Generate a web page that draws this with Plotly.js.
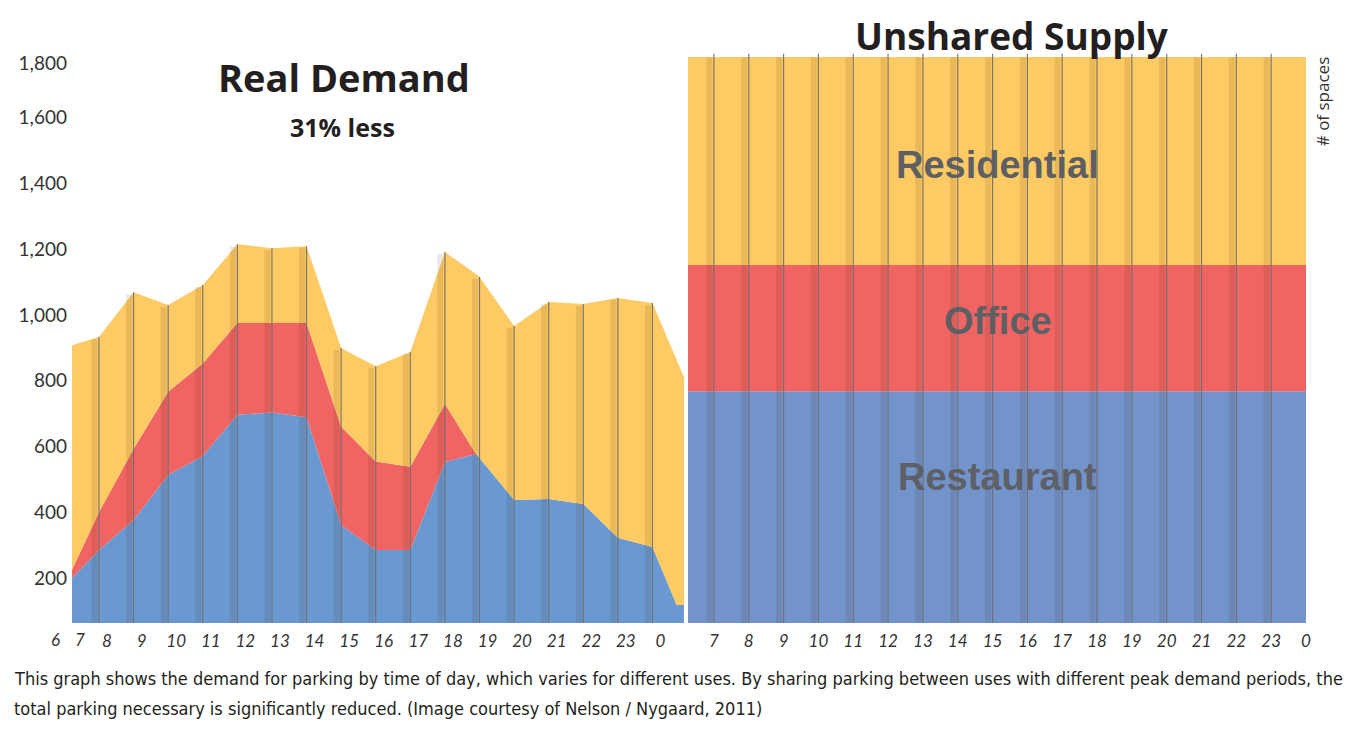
<!DOCTYPE html>
<html>
<head>
<meta charset="utf-8">
<script src="https://cdn.plot.ly/plotly-3.0.1.min.js"></script>
<style>
  html, body { margin: 0; padding: 0; background: #ffffff; }
  #chart { width: 1349px; height: 738px; }
</style>
</head>
<body>
<div id="chart"></div>
<script>
// ---- Real demand (left panel), hour of day (24 = midnight) ----
const demandHours = [7.22, 8, 9, 10, 11, 12, 13, 14, 15, 16, 17, 18, 18.9, 19, 20, 21, 22, 23, 24, 24.7, 24.91];
const demandRestaurant = [200, 285, 376, 513, 571, 696, 703, 689, 361, 285, 285, 553, 577, 565, 437, 440, 425, 322, 294, 118, 118];
const demandOffice = [24, 115, 216, 253, 281, 279, 272, 286, 299, 269, 253, 176, 0, 0, 0, 0, 0, 0, 0, 0, 0];
const demandResidential = [684, 533, 477, 264, 239, 240, 228, 234, 239, 290, 349, 462, 547, 550, 529, 599, 608, 729, 742, 745, 693];

// ---- Unshared supply (right panel) ----
const supplyHours = [6, 24];
const supplyRestaurant = [768, 768];
const supplyOffice = [384, 384];
const supplyResidential = [632, 632];

// ---- Tick labels ----
const demandTickHours = [8, 9, 10, 11, 12, 13, 14, 15, 16, 17, 18, 19, 20, 21, 22, 23, 24];
const demandTickText = ["8", "9", "10", "11", "12", "13", "14", "15", "16", "17", "18", "19", "20", "21", "22", "23", "0"];
const supplyTickHours = [7, 8, 9, 10, 11, 12, 13, 14, 15, 16, 17, 18, 19, 20, 21, 22, 23, 24];
const supplyTickText = ["7", "8", "9", "10", "11", "12", "13", "14", "15", "16", "17", "18", "19", "20", "21", "22", "23", "0"];
const yTickVals = [200, 400, 600, 800, 1000, 1200, 1400, 1600, 1766];
const yTickText = ["200", "400", "600", "800", "1,000", "1,200", "1,400", "1,600", "1,800"];
const supplyGridHours = [7, 8, 9, 10, 11, 12, 13, 14, 15, 16, 17, 18, 19, 20, 21, 22, 23];

const useNames = ["Restaurant", "Office", "Residential"];

// ---- styling ----
const YELLOW = "#fdca63";
const RED = "#f06464";
const BLUE_L = "#6a98d0";
const BLUE_R = "#7393cb";
const Y_MIN = 63, Y_MAX = 1836;

function area(x, y, color, group, xa, name) {
  return {
    type: "scatter", mode: "lines", x: x, y: y, xaxis: xa, yaxis: "y",
    stackgroup: group, stackgaps: "interpolate", name: name,
    line: { width: 0, color: color }, fillcolor: color, hoverinfo: "skip"
  };
}

const traces = [
  area(demandHours, demandRestaurant, BLUE_L, "demand", "x", useNames[0]),
  area(demandHours, demandOffice, RED, "demand", "x", useNames[1]),
  area(demandHours, demandResidential, YELLOW, "demand", "x", useNames[2]),
  area(supplyHours, supplyRestaurant, BLUE_R, "supply", "x2", useNames[0]),
  area(supplyHours, supplyOffice, RED, "supply", "x2", useNames[1]),
  area(supplyHours, supplyResidential, YELLOW, "supply", "x2", useNames[2])
];

// vertical hour dividers, from the axis floor up to the top of each stack
function dividers(hoursList, topFn, xa, dx, width, color, extra) {
  const xs = [], ys = [];
  hoursList.forEach(h => { xs.push(h + dx, h + dx, null); ys.push(Y_MIN, topFn(h) + extra, null); });
  return { type: "scatter", mode: "lines", x: xs, y: ys, xaxis: xa, yaxis: "y",
           line: { width: width, color: color }, hoverinfo: "skip", connectgaps: false };
}
const demandTop = h => {
  const i = demandHours.indexOf(h);
  return demandRestaurant[i] + demandOffice[i] + demandResidential[i];
};
const supplyTop = h => supplyRestaurant[0] + supplyOffice[0] + supplyResidential[0];

traces.push(dividers(demandTickHours, demandTop, "x", -0.13, 6, "rgba(60,40,0,0.10)", -6));
traces.push(dividers(demandTickHours, demandTop, "x", 0, 1.2, "rgba(110,110,110,0.9)", 0));
traces.push(dividers(supplyGridHours, supplyTop, "x2", -0.13, 6, "rgba(60,40,0,0.10)", 0));
traces.push(dividers(supplyGridHours, supplyTop, "x2", 0, 1.2, "rgba(110,110,110,0.9)", 10));

const tickFontX = { family: "Lato, 'Open Sans', sans-serif", size: 17, color: "#333333", style: "italic" };

const annFont = (size, color, family, weight) => ({ family: family, size: size, color: color, weight: weight });
const TITLE_FAM = "'Open Sans', Lato, sans-serif";
const LABEL_FAM = "'Liberation Sans', Arial, sans-serif";
const CAP_FAM = "'Liberation Sans Narrow', 'DejaVu Sans Condensed', 'Liberation Sans', sans-serif";

const annotations = [
  { text: "Real Demand", xref: "paper", yref: "paper", x: 0.2204, y: 0.9365, xanchor: "center", yanchor: "middle",
    showarrow: false, font: annFont(38, "#231f20", TITLE_FAM, 700) },
  { text: "31% less", xref: "paper", yref: "paper", x: 0.2196, y: 0.8508, xanchor: "center", yanchor: "middle",
    showarrow: false, font: annFont(25, "#231f20", TITLE_FAM, 700) },
  { text: "Unshared Supply", xref: "paper", yref: "paper", x: 0.7618, y: 1.0070, xanchor: "center", yanchor: "middle",
    showarrow: false, font: annFont(37, "#231f20", TITLE_FAM, 700) },
  { text: "# of spaces", xref: "paper", yref: "paper", x: 1.013, y: 0.895, xanchor: "center", yanchor: "middle",
    textangle: -90, showarrow: false, font: annFont(17, "#333333", "'Open Sans', sans-serif", 400) },
  { text: "Residential", xref: "x2 domain", yref: "y", x: 0.5016, y: 1456, xanchor: "center", yanchor: "middle",
    showarrow: false, font: annFont(38, "#5d5f63", LABEL_FAM, 700) },
  { text: "Office", xref: "x2 domain", yref: "y", x: 0.5016, y: 981, xanchor: "center", yanchor: "middle",
    showarrow: false, font: annFont(38, "#5d5f63", LABEL_FAM, 700) },
  { text: "Restaurant", xref: "x2 domain", yref: "y", x: 0.5016, y: 507, xanchor: "center", yanchor: "middle",
    showarrow: false, font: annFont(38, "#5d6066", LABEL_FAM, 700) },
  { text: "6", xref: "paper", yref: "paper", x: -0.013, y: -0.029, xanchor: "center", yanchor: "middle",
    showarrow: false, font: tickFontX },
  { text: "7", xref: "paper", yref: "paper", x: 0.0065, y: -0.029, xanchor: "center", yanchor: "middle",
    showarrow: false, font: tickFontX },
  { text: "This graph shows the demand for parking by time of day, which varies for different uses. By sharing parking between uses with different peak demand periods, the",
    xref: "paper", yref: "paper", x: -0.0486, y: -0.096, xanchor: "left", yanchor: "middle",
    showarrow: false, font: annFont(18, "#231f20", CAP_FAM, 400) },
  { text: "total parking necessary is significantly reduced. (Image courtesy of Nelson / Nygaard, 2011)",
    xref: "paper", yref: "paper", x: -0.0486, y: -0.1458, xanchor: "left", yanchor: "middle",
    showarrow: false, font: annFont(18, "#231f20", CAP_FAM, 400) }
];

const layout = {
  width: 1349, height: 738,
  margin: { l: 72, r: 43, t: 40, b: 115 },
  paper_bgcolor: "#ffffff", plot_bgcolor: "#ffffff",
  showlegend: false, hovermode: false,
  xaxis: {
    domain: [0, 0.4959], range: [7.22, 24.91], anchor: "y",
    tickvals: demandTickHours, ticktext: demandTickText, ticklabelshift: 8,
    ticks: "", ticklabelstandoff: 6, showgrid: false, zeroline: false, showline: false,
    tickfont: tickFontX
  },
  xaxis2: {
    domain: [0.4992, 1], range: [6.256, 24.0], anchor: "y",
    tickvals: supplyTickHours, ticktext: supplyTickText, ticklabelshift: 0,
    ticks: "", ticklabelstandoff: 6, showgrid: false, zeroline: false, showline: false,
    tickfont: tickFontX
  },
  yaxis: {
    domain: [0, 1], range: [Y_MIN, Y_MAX], anchor: "x",
    tickvals: yTickVals, ticktext: yTickText,
    ticks: "", ticklabelstandoff: 4, showgrid: false, zeroline: false, showline: false,
    tickfont: { family: "Lato, 'Open Sans', sans-serif", size: 19, color: "#333333" }
  },
  annotations: annotations
};

Plotly.newPlot("chart", traces, layout, { displayModeBar: false, staticPlot: true });
</script>
</body>
</html>
